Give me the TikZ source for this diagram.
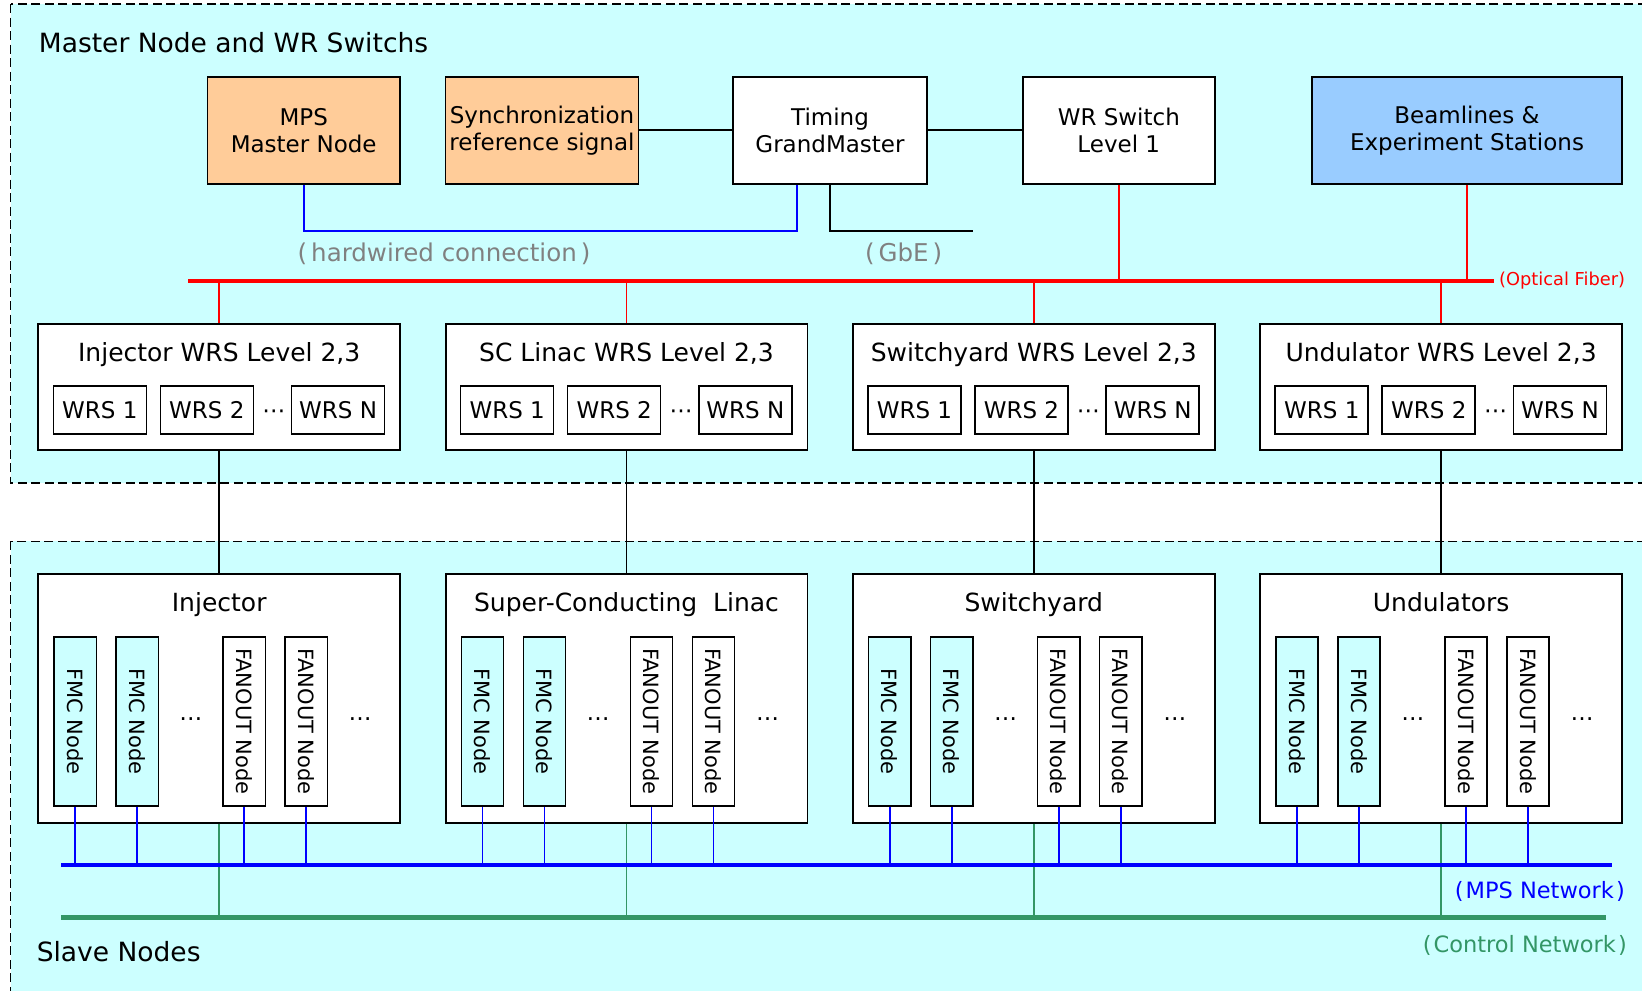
\documentclass[tikz,border=0pt]{standalone}
\usepackage{fontspec}
\setmainfont{DejaVu Sans}
\definecolor{bgcyan}{RGB}{204,255,255}
\definecolor{peach}{RGB}{255,204,153}
\definecolor{skyblue}{RGB}{153,204,255}
\definecolor{netgreen}{RGB}{51,150,102}
\definecolor{labelgray}{RGB}{128,128,128}
\newcommand\parenpad{\hspace{4pt}}
\begin{document}
\begin{tikzpicture}[x=1pt,y=-1pt,
  every node/.style={inner sep=0pt},
  region/.style={fill=bgcyan, draw=black, line width=1.6pt, dash pattern=on 9pt off 4.5pt},
  topbox/.style={draw=black, line width=1.8pt, minimum height=107.3pt, align=center,
    font=\fontsize{23}{27}\selectfont},
  levelbox/.style={draw=black, line width=1.8pt, fill=white, minimum width=361.8pt},
  wrsbox/.style={draw=black, line width=1.6pt, minimum width=93pt, minimum height=48pt,
    font=\fontsize{23}{27}\selectfont},
  slavebox/.style={draw=black, line width=1.6pt, minimum width=42.3pt, minimum height=169pt,
    font=\fontsize{21}{25}\selectfont},
  fmcbox/.style={slavebox, fill=bgcyan},
  fanbox/.style={slavebox, fill=white},
  sectitle/.style={font=\fontsize{26.5}{32}\selectfont},
  boxtitle/.style={font=\fontsize{25}{30}\selectfont},
  dotsfont/.style={font=\fontsize{23}{27}\selectfont},
  wire/.style={draw=black, line width=1.7pt},
  hwline/.style={draw=blue, line width=1.7pt},
  fiber/.style={draw=red, line width=1.6pt},
  fiberbus/.style={draw=red, line width=4.5pt},
  mpsline/.style={draw=blue, line width=1.7pt},
  mpsbus/.style={draw=blue, line width=4.5pt},
  ctlline/.style={draw=netgreen, line width=1.6pt},
  ctlbus/.style={draw=netgreen, line width=4.5pt},
  graylabel/.style={text=labelgray, font=\fontsize{24.5}{29}\selectfont}
]
\useasboundingbox (0,0) rectangle (1642,991);

% dashed section frames (open to the right)
\begin{scope}
  \clip (0,0) rectangle (1642,991);
  \path[region] (10.5,4.2) rectangle (1700,482.8);
  \path[region] (10.5,541.4) rectangle (1700,1040);
\end{scope}

\node[sectitle, anchor=base west] (mastertitle) at (38.7,52.7) {Master Node and WR Switchs};
\node[sectitle, anchor=base west] (slavetitle) at (36.6,961.7) {Slave Nodes};

% master row
\node[topbox, fill=peach, minimum width=192.5pt] (mps) at (303.7,130.3) {MPS\\Master Node};
\node[topbox, fill=peach, minimum width=193pt] (sync) at (542,130.3) {Synchronization\\reference signal};
\node[topbox, fill=white, minimum width=194pt] (tgm) at (830,130.3) {Timing\\GrandMaster};
\node[topbox, fill=white, minimum width=192.3pt] (wr1) at (1118.8,130.3) {WR Switch\\Level 1};
\node[topbox, fill=skyblue, minimum width=310pt] (beam) at (1467,130.3) {Beamlines \&\\Experiment Stations};

\draw[wire] (sync.east) -- (tgm.west);
\draw[wire] (tgm.east) -- (wr1.west);

\coordinate (hwturn) at (796.7,230.7);
\coordinate (gbeend) at (973.4,230.7);
\draw[hwline] (mps.south) |- (hwturn) -- (tgm.south -| hwturn);
\draw[wire] (tgm.south) |- (gbeend);

\node[graylabel, anchor=base] (hwlabel) at (444,261) {(\parenpad hardwired connection\parenpad)};
\node[graylabel, anchor=base] (gbelabel) at (903.6,261) {(\parenpad GbE\parenpad)};

% optical fiber bus
\coordinate (ofL) at (188.4,281);
\coordinate (ofR) at (1494,281);
\draw[fiber] (wr1.south) -- (wr1.south |- ofL);
\draw[fiber] (beam.south) -- (beam.south |- ofL);

% MPS and control network buses
\coordinate (mpsL) at (61.2,865);
\coordinate (mpsR) at (1611.6,865);
\coordinate (ctlL) at (61.2,917.7);
\coordinate (ctlR) at (1606,917.7);

\foreach \i/\name/\ttl/\lname in {0/inj/Injector/Injector,
    1/scl/SC Linac/Super-Conducting\ \ Linac,
    2/swy/Switchyard/Switchyard,
    3/und/Undulator/Undulators}{
  \pgfmathsetmacro\bx{38.2+407.3*\i}
  % level 2,3 switch group
  \node[levelbox, minimum height=126pt] (wrs\name) at ({\bx+181},387) {};
  \node[boxtitle, anchor=base] (wrst\name) at ({\bx+181},361) {\ttl{} WRS Level 2,3};
  \node[wrsbox] (wrsa\name) at ({\bx+61.65},410) {WRS 1};
  \node[wrsbox] (wrsb\name) at ({\bx+168.65},410) {WRS 2};
  \node[dotsfont, anchor=base] (wrsd\name) at ({\bx+235.6},418.7) {⋯};
  \node[wrsbox] (wrsn\name) at ({\bx+299.9},410) {WRS N};
  \draw[fiber] (wrs\name.north) -- (wrs\name.north |- ofL);
  % slave area
  \node[levelbox, minimum height=248.4pt] (area\name) at ({\bx+181},698.5) {};
  \node[boxtitle, anchor=base] (areat\name) at ({\bx+181},611.7) {\lname};
  \draw[wire] (wrs\name.south) -- (area\name.north);
  \node[fmcbox] (fmca\name) at ({\bx+37},721.5) {\rotatebox{-90}{FMC Node}};
  \node[fmcbox] (fmcb\name) at ({\bx+99},721.5) {\rotatebox{-90}{FMC Node}};
  \node[dotsfont, anchor=base] (fmcd\name) at ({\bx+152.7},720) {…};
  \node[fanbox] (fana\name) at ({\bx+206},721.5) {\rotatebox{-90}{FANOUT Node}};
  \node[fanbox] (fanb\name) at ({\bx+268},721.5) {\rotatebox{-90}{FANOUT Node}};
  \node[dotsfont, anchor=base] (fand\name) at ({\bx+322},720) {…};
  \foreach \n in {fmca,fmcb,fana,fanb}{
    \draw[mpsline] (\n\name.south) -- (\n\name.south |- mpsL);
  }
  \draw[ctlline] (area\name.south) -- (area\name.south |- ctlL);
}

\draw[fiberbus] (ofL) -- (ofR);
\node[text=red, font=\fontsize{17.8}{21}\selectfont, anchor=base west] (oflabel) at (1499,285) {(Optical Fiber)};

\draw[mpsbus] (mpsL) -- (mpsR);
\draw[ctlbus] (ctlL) -- (ctlR);
\node[text=blue, font=\fontsize{22.5}{27}\selectfont, anchor=base east] (mpslabel) at (1625,898) {(\hspace{2pt}MPS Network\hspace{2pt})};
\node[text=netgreen, font=\fontsize{22.5}{27}\selectfont, anchor=base east] (ctllabel) at (1627,952) {(\hspace{2pt}Control Network\hspace{2pt})};
\end{tikzpicture}
\end{document}
